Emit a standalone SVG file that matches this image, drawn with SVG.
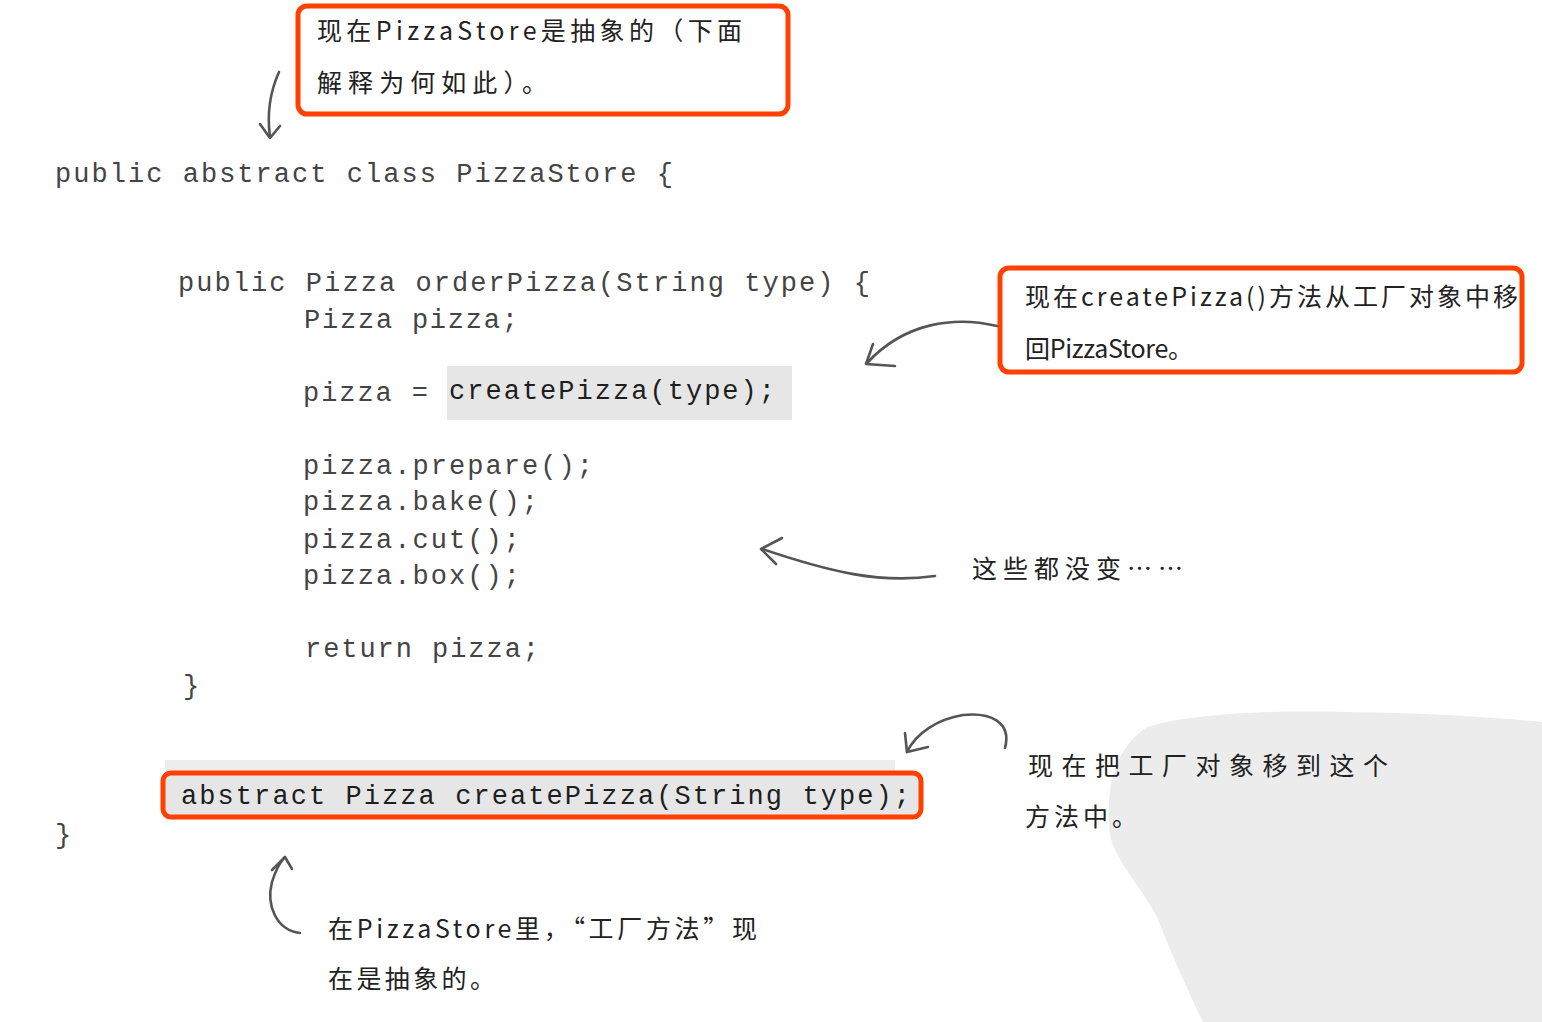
<svg xmlns="http://www.w3.org/2000/svg" width="1542" height="1022" viewBox="0 0 1542 1022">
<defs>
<style>
.code{font-family:"Liberation Mono","DejaVu Sans Mono",monospace;font-size:27px;fill:#444;}
.codeb{font-family:"Liberation Mono","DejaVu Sans Mono",monospace;font-size:27px;fill:#1e1e1e;}
.note{font-family:"Noto Sans CJK SC","Noto Sans",sans-serif;font-size:25px;fill:#222;}
.red{fill:none;stroke:#ff4000;stroke-width:5;}
.hl{fill:#e6e6e6;}
.arr{fill:none;stroke:#555;stroke-width:2.6;stroke-linecap:round;stroke-linejoin:round;}
</style>
</defs>
<rect width="1542" height="1022" fill="#ffffff"/>
<path id="watermark" d="M1147,727 C1190,714 1260,710 1347,712 C1420,713 1480,716 1542,722 L1542,1022 L1203,1022 C1185,985 1170,950 1157,917 C1140,885 1115,860 1110,835 C1106,795 1110,752 1147,727 Z" fill="#ececec"/>

<g id="code">
<rect class="hl" x="447" y="366" width="345" height="54"/>
<rect class="hl" x="165" y="760" width="730" height="14" opacity="0.7"/>
<rect class="hl" x="164" y="774" width="756" height="41"/>
<text class="code" x="55" y="182" textLength="618" lengthAdjust="spacing">public abstract class PizzaStore {</text>
<text class="code" x="178" y="291" textLength="692" lengthAdjust="spacing">public Pizza orderPizza(String type) {</text>
<text class="code" x="304" y="328" textLength="214" lengthAdjust="spacing">Pizza pizza;</text>
<text class="code" x="303" y="401" textLength="125" lengthAdjust="spacing">pizza =</text>
<text class="codeb" x="449" y="399" textLength="326" lengthAdjust="spacing">createPizza(type);</text>
<text class="code" x="303" y="474" textLength="290" lengthAdjust="spacing">pizza.prepare();</text>
<text class="code" x="303" y="510" textLength="235" lengthAdjust="spacing">pizza.bake();</text>
<text class="code" x="303" y="548" textLength="217" lengthAdjust="spacing">pizza.cut();</text>
<text class="code" x="303" y="584" textLength="217" lengthAdjust="spacing">pizza.box();</text>
<text class="code" x="305" y="657" textLength="234" lengthAdjust="spacing">return pizza;</text>
<text class="code" x="183" y="694">}</text>
<text class="codeb" x="181" y="804" textLength="729" lengthAdjust="spacing">abstract Pizza createPizza(String type);</text>
<text class="code" x="55" y="843">}</text>
</g>

<g id="note-abstract">
<rect class="red" x="298" y="6" width="490" height="108" rx="9"/>
<text class="note" x="317" y="40" textLength="425" lengthAdjust="spacing">现在PizzaStore是抽象的（下面</text>
<text class="note" x="317" y="92" textLength="230" lengthAdjust="spacing">解释为何如此）。</text>
</g>

<g id="note-createPizza">
<rect class="red" x="1000" y="268" width="522" height="104" rx="9"/>
<text class="note" x="1025" y="306" textLength="493" lengthAdjust="spacing">现在createPizza()方法从工厂对象中移</text>
<text class="note" x="1025" y="358" textLength="168" lengthAdjust="spacing">回PizzaStore。</text>
</g>

<g id="note-unchanged">
<text class="note" x="972" y="578" textLength="211" lengthAdjust="spacing">这些都没变……</text>
</g>

<g id="note-moved">
<text class="note" x="1028" y="775" textLength="360" lengthAdjust="spacing">现在把工厂对象移到这个</text>
<text class="note" x="1025" y="826" textLength="112" lengthAdjust="spacing">方法中。</text>
</g>

<g id="note-factory-method">
<rect class="red" x="163" y="773" width="758" height="44" rx="8"/>
<text class="note" x="328" y="938" textLength="429" lengthAdjust="spacing">在PizzaStore里，“工厂方法”现</text>
<text class="note" x="328" y="988" textLength="167" lengthAdjust="spacing">在是抽象的。</text>
</g>

<g id="connectors">
<path class="arr" d="M279,72 C270,92 267,115 270,137"/>
<path class="arr" d="M260,124 L270,138 L280,126"/>
<path class="arr" d="M997,326 C955,316 905,322 867,363"/>
<path class="arr" d="M873,344 L866,364 L895,366"/>
<path class="arr" d="M935,576 C880,584 830,572 762,549"/>
<path class="arr" d="M782,538 L761,549 L776,564"/>
<path class="arr" d="M1005,748 C1012,722 990,712 963,715 C938,719 916,733 907,752"/>
<path class="arr" d="M905,733 L907,752 L928,747"/>
<path class="arr" d="M300,933 C276,930 266,905 272,882 C275,872 279,864 284,858"/>
<path class="arr" d="M272,870 L285,857 L292,869"/>
</g>
</svg>
